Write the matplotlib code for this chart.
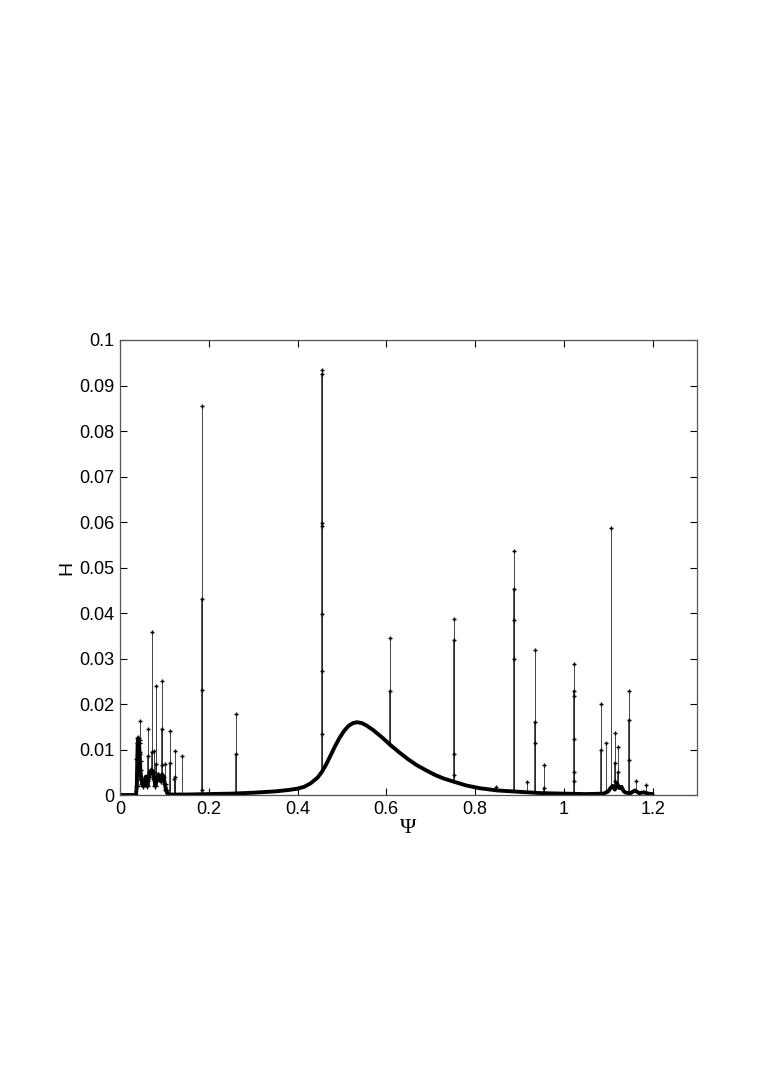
import numpy as np
import matplotlib
matplotlib.use("Agg")
import matplotlib.pyplot as plt

# smooth background curve H(psi)
base_x = [0.0, 0.036, 0.038, 0.039, 0.040, 0.041, 0.042, 0.043, 0.044, 0.045,
          0.046, 0.048, 0.050, 0.053, 0.056, 0.058, 0.060, 0.062, 0.065, 0.068,
          0.071, 0.074, 0.077, 0.080, 0.083, 0.086, 0.089, 0.092, 0.095, 0.098,
          0.101, 0.104, 0.107, 0.110, 0.15, 0.20, 0.25, 0.30, 0.35, 0.38,
          0.40, 0.415, 0.43, 0.445, 0.455, 0.465, 0.475, 0.485, 0.495, 0.505,
          0.515, 0.525, 0.534, 0.545, 0.555, 0.57, 0.59, 0.608, 0.63, 0.65,
          0.668, 0.69, 0.71, 0.73, 0.753, 0.78, 0.81, 0.85, 0.90, 0.95,
          1.00, 1.05, 1.09, 1.100, 1.105, 1.110, 1.115, 1.120, 1.125, 1.130,
          1.135, 1.14, 1.15, 1.16, 1.17, 1.18, 1.19, 1.20]
base_y = [0.0, 0.0, 0.002, 0.008, 0.0115, 0.0125, 0.012, 0.0115, 0.0095, 0.0075,
          0.0055, 0.0035, 0.0025, 0.002, 0.0025, 0.004, 0.003, 0.002, 0.004, 0.005,
          0.0055, 0.005, 0.0035, 0.002, 0.0035, 0.0045, 0.004, 0.003, 0.0045, 0.004,
          0.0025, 0.001, 0.0003, 0.0001, 0.0001, 0.0002, 0.0003, 0.0005, 0.0008, 0.0011,
          0.0014, 0.0018, 0.0026, 0.0038, 0.0051, 0.0068, 0.0088, 0.0108, 0.0126, 0.0141,
          0.0152, 0.0158, 0.0160, 0.0158, 0.0153, 0.0143, 0.0127, 0.0111, 0.0093, 0.0078,
          0.0066, 0.0054, 0.0044, 0.0036, 0.0029, 0.0021, 0.0015, 0.0010, 0.0007, 0.0004,
          0.0003, 0.0002, 0.0003, 0.0008, 0.0015, 0.0020, 0.0012, 0.0025, 0.0015, 0.0018,
          0.0008, 0.0005, 0.0004, 0.0010, 0.0004, 0.0006, 0.0003, 0.0002]

# narrow resonance spikes: position and the sample heights visible on each
spike_x = [0.0457, 0.064, 0.0728, 0.0766, 0.082, 0.0946, 0.101, 0.113, 0.121,
           0.125, 0.140, 0.185, 0.261, 0.455, 0.608, 0.753, 0.847, 0.888,
           0.917, 0.935, 0.955, 1.023, 1.084, 1.095, 1.106, 1.115, 1.122,
           1.147, 1.163, 1.185]
spike_h = [
    [0.0163, 0.009],
    [0.0145, 0.0085],
    [0.0358, 0.0095],
    [0.0097],
    [0.0240, 0.0068],
    [0.0250, 0.0145, 0.0065],
    [0.0068],
    [0.0141, 0.0070],
    [0.0035],
    [0.0097, 0.0040],
    [0.0086],
    [0.0855, 0.043, 0.023, 0.001],
    [0.0178, 0.009],
    [0.0934, 0.0925, 0.0597, 0.0592, 0.0397, 0.0273, 0.0135],
    [0.0345, 0.0229, 0.0110],
    [0.0387, 0.0340, 0.0091, 0.0045],
    [0.0018],
    [0.0536, 0.0452, 0.0385, 0.0300],
    [0.0028],
    [0.0318, 0.0160, 0.0115],
    [0.0067, 0.0015],
    [0.0288, 0.0228, 0.0218, 0.0122, 0.0050, 0.0030],
    [0.0201, 0.0100],
    [0.0114],
    [0.0586],
    [0.0136, 0.0070, 0.0030],
    [0.0106, 0.0050],
    [0.0229, 0.0165, 0.0077],
    [0.0031],
    [0.0023],
]

x_ticks = [0, 0.2, 0.4, 0.6, 0.8, 1.0, 1.2]
x_ticklabels = ["0", "0.2", "0.4", "0.6", "0.8", "1", "1.2"]
y_ticks = [0, 0.01, 0.02, 0.03, 0.04, 0.05, 0.06, 0.07, 0.08, 0.09, 0.1]
y_ticklabels = ["0", "0.01", "0.02", "0.03", "0.04", "0.05", "0.06", "0.07",
                "0.08", "0.09", "0.1"]

plt.rcParams['font.family'] = ['Liberation Sans', 'DejaVu Sans']

fig = plt.figure(figsize=(7.7, 10.88), dpi=100)
ax = fig.add_axes([0.1558, 0.2693, 0.7494, 0.4182])

# spikes: thin vertical lines from the curve with sample markers
for sx, hs in zip(spike_x, spike_h):
    y0 = np.interp(sx, base_x, base_y)
    ax.plot([sx, sx], [y0, max(hs)], color="#444444", lw=0.7)
    if len(hs) > 1:
        ax.plot([sx, sx], [y0, sorted(hs)[-2]], color="#222222", lw=1.1)
    ax.plot([sx] * len(hs), hs, linestyle="none", marker="+", ms=3.5,
            mew=1.0, color="k")

ax.plot(base_x, base_y, color="k", lw=2.8, solid_joinstyle="round",
        solid_capstyle="round")
ax.plot(base_x[1:32], base_y[1:32], linestyle="none", marker="+", ms=4,
        mew=1.0, color="k")

ax.set_xlim(0, 1.3)
ax.set_ylim(0, 0.1)
ax.set_xticks(x_ticks)
ax.set_xticklabels(x_ticklabels)
ax.set_yticks(y_ticks)
ax.set_yticklabels(y_ticklabels)
ax.tick_params(direction="in", top=True, right=True, length=5, width=0.8,
               labelsize=13, colors="k", pad=4)
for sp in ax.spines.values():
    sp.set_linewidth(0.9)
    sp.set_color("#555555")

ax.set_xlabel("Ψ", fontsize=16, family=["Liberation Serif", "DejaVu Serif"],
              labelpad=1)
ax.set_ylabel("H", fontsize=14, labelpad=3)

fig.savefig("out.png", dpi=100)
